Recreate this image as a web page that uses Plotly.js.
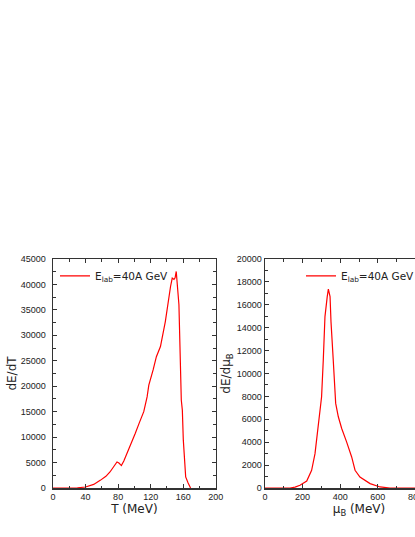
<!DOCTYPE html>
<html>
<head>
<meta charset="utf-8">
<script src="https://cdn.plot.ly/plotly-3.0.1.min.js"></script>
<style>
html, body { margin: 0; padding: 0; overflow: hidden; background: #fff; }
#grafic { width: 460px; height: 537px; }
</style>
</head>
<body>
<div id="grafic"></div>
<script>
// dE/dT en funcio de T (MeV)
var T_MeV = [0, 20, 30, 40, 50, 58, 65, 70, 74, 78.6, 81, 84, 87, 91, 96, 101, 106, 111.5, 115.6, 117.7, 123, 127, 132, 138, 144.4, 146.5, 148.6, 150, 151.4, 154.7, 157.6, 158.9, 160.1, 163, 166, 169];
var dEdT = [0, 0, 50, 200, 700, 1500, 2300, 3150, 4000, 5120, 4900, 4400, 5300, 6770, 8600, 10700, 12800, 15000, 17900, 20200, 23200, 25800, 27800, 32700, 39600, 41250, 41000, 41300, 42550, 36000, 17300, 15300, 9400, 2170, 1000, 0];

// dE/dmuB en funcio de muB (MeV)
var muB_MeV = [0, 100, 133, 160, 186, 222, 248, 266, 278, 293, 301, 310, 319, 331, 337, 346, 351, 363, 372, 376, 390, 408, 434, 461, 479, 505, 559, 612, 665, 1000];
var dEdmuB = [0, 0, 0, 80, 240, 610, 1550, 3000, 4760, 6800, 7970, 11180, 14970, 16720, 17370, 16720, 14530, 11180, 7970, 7390, 6220, 5200, 4030, 2710, 1550, 960, 385, 90, 0, 0];

var nomLlegenda = 'E<sub>lab</sub>=40A GeV';

var font = 'DejaVu Sans, Liberation Sans, sans-serif';
var fontTicks = 'Liberation Sans, Arial, sans-serif';

// EIXOS COMUNS (capsa amb marques cap a dins)
function eix(extra) {
    var base = {
        showline: true, linecolor: '#333', linewidth: 1.5, mirror: 'ticks',
        ticks: 'inside', ticklen: 4, tickwidth: 1, tickcolor: '#333',
        showgrid: false, zeroline: false, tickformat: 'd',
        tickfont: { family: fontTicks, size: 9, color: '#222' }
    };
    for (var k in extra) base[k] = extra[k];
    return base;
}

var traçaT = {
    x: T_MeV, y: dEdT, type: 'scatter', mode: 'lines',
    line: { color: '#ff0000', width: 1.2 }, name: nomLlegenda,
    xaxis: 'x', yaxis: 'y', legend: 'legend'
};
var traçaMu = {
    x: muB_MeV, y: dEdmuB, type: 'scatter', mode: 'lines',
    line: { color: '#ff0000', width: 1.2 }, name: nomLlegenda,
    xaxis: 'x2', yaxis: 'y2', legend: 'legend2'
};

var titolFont = { family: font, size: 12, color: '#222' };

var layout = {
    width: 460, height: 537,
    margin: { l: 53, r: 7, t: 259, b: 49 },
    paper_bgcolor: '#fff', plot_bgcolor: '#fff',
    font: { family: font, color: '#222' },
    xaxis: eix({
        domain: [0, 0.407], range: [0, 200], dtick: 40,
        minor: { dtick: 20, ticks: 'inside', ticklen: 2.5, tickcolor: '#333' },
        title: { text: 'T (MeV)', font: titolFont, standoff: 0 }
    }),
    yaxis: eix({
        range: [0, 45000], dtick: 5000, ticklabelstandoff: 4,
        minor: { dtick: 2500, ticks: 'inside', ticklen: 2.5, tickcolor: '#333' },
        title: { text: 'dE/dT', font: titolFont, standoff: 1 }
    }),
    xaxis2: eix({
        domain: [0.53, 1], range: [0, 1000], dtick: 200, anchor: 'y2',
        minor: { dtick: 100, ticks: 'inside', ticklen: 2.5, tickcolor: '#333' },
        title: { text: '\u03bc<sub>B</sub> (MeV)', font: titolFont, standoff: 0 }
    }),
    yaxis2: eix({
        range: [0, 20000], dtick: 2000, anchor: 'x2',
        minor: { dtick: 1000, ticks: 'inside', ticklen: 2.5, tickcolor: '#333' },
        title: { text: 'dE/d\u03bc<sub>B</sub>', font: titolFont, standoff: 3 }
    }),
    legend: {
        x: 0.005, y: 0.99, xanchor: 'left', yanchor: 'top', itemwidth: 30,
        bgcolor: 'rgba(0,0,0,0)', font: { family: font, size: 10.5, color: '#222' }
    },
    legend2: {
        x: 0.62, y: 0.99, xanchor: 'left', yanchor: 'top', itemwidth: 30,
        bgcolor: 'rgba(0,0,0,0)', font: { family: font, size: 10.5, color: '#222' }
    },
    showlegend: true
};

Plotly.newPlot('grafic', [traçaT, traçaMu], layout, { displayModeBar: false, staticPlot: true });
</script>
</body>
</html>
